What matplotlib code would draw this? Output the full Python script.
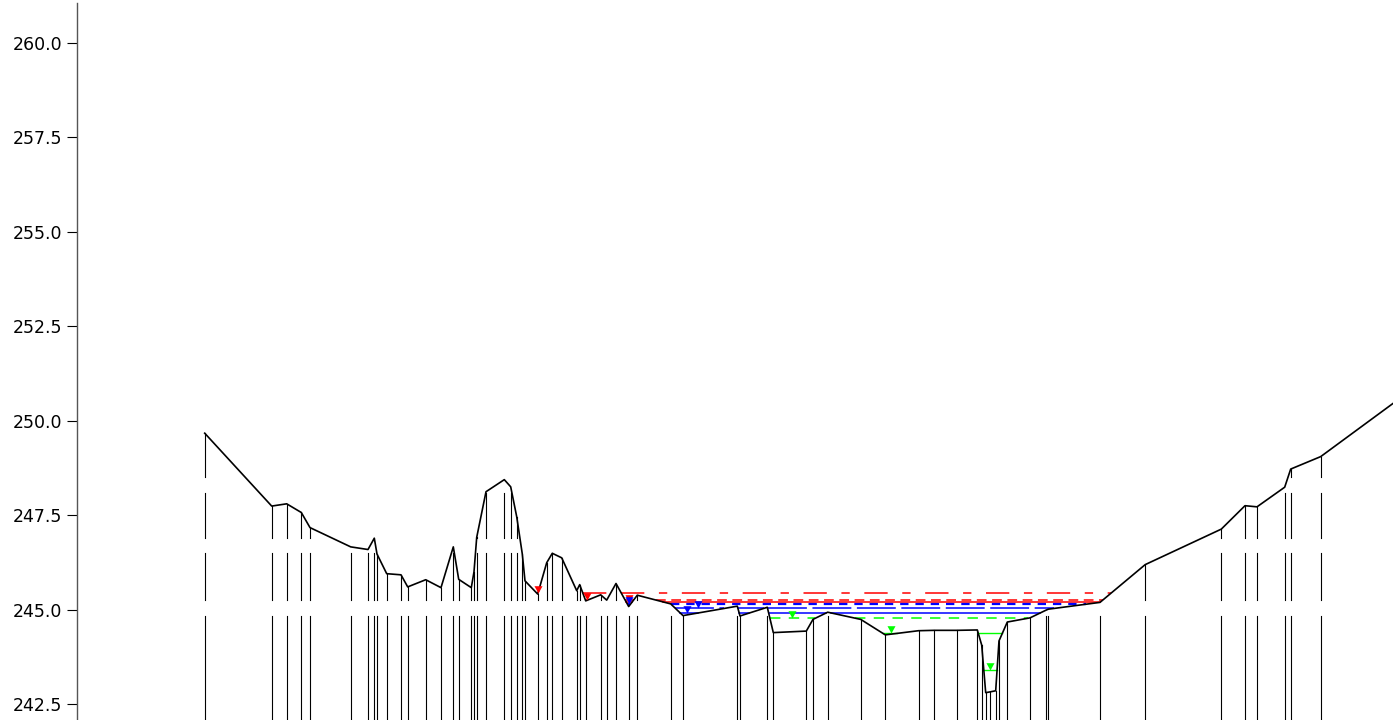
import numpy as np
import matplotlib.pyplot as plt

plt.rcParams['lines.scale_dashes'] = False
plt.rcParams['font.family'] = ['DejaVu Sans']

# ground profile, station vs elevation
station = [127.7, 194.7, 209.7, 224.3, 233.0, 273.7, 291.0, 297.3, 300.0, 309.7,
           324.0, 330.7, 348.7, 364.0, 376.3, 381.7, 394.3, 397.0, 399.7, 409.0,
           427.3, 433.7, 439.7, 445.3, 448.0, 460.7, 469.7, 475.3, 484.7, 499.7,
           502.7, 508.7, 523.7, 529.7, 539.0, 551.7, 560.3, 593.7, 606.0, 660.3,
           663.0, 690.3, 696.3, 729.3, 736.0, 750.7, 783.7, 808.3, 841.5, 857.0,
           879.7, 900.3, 904.7, 908.7, 913.0, 918.7, 922.0, 930.3, 953.0, 968.7,
           971.3, 1023.0, 1068.2, 1144.3, 1168.0, 1180.0, 1207.7, 1213.7, 1243.7, 1330.0]
elevation = [249.67, 247.74, 247.80, 247.57, 247.17, 246.66, 246.59, 246.89, 246.47, 245.95,
             245.92, 245.60, 245.79, 245.58, 246.66, 245.80, 245.58, 246.00, 246.91, 248.12,
             248.44, 248.25, 247.46, 246.47, 245.76, 245.41, 246.24, 246.49, 246.37, 245.50,
             245.66, 245.23, 245.39, 245.25, 245.69, 245.08, 245.38, 245.15, 244.84, 245.09,
             244.83, 245.06, 244.39, 244.43, 244.74, 244.93, 244.74, 244.33, 244.44, 244.45,
             244.45, 244.46, 244.06, 242.80, 242.82, 242.85, 244.17, 244.67, 244.78, 244.98,
             245.01, 245.19, 246.19, 247.13, 247.75, 247.72, 248.24, 248.72, 249.05, 250.73]

# water surface profiles
ws_elev = [245.43, 245.25, 245.20, 245.14, 245.03, 244.91, 244.77, 244.37, 243.40]
ws_marker_sta = [460.7, 509.7, 551.7, 551.7, 620.7, 609.7, 715.3, 814.3, 913.0]

# styles of the profiles
ws_colors = ['#ff0000', '#ff0000', '#ff0000',
             '#0000ff', '#0000ff', '#0000ff',
             '#00ff00', '#00ff00', '#00ff00']
ws_styles = [(0, (16.8, 10.5, 6.0, 10.5)), (0, (7.0, 4.0)), '-',
             (0, (6.0, 5.0)), (0, (28.0, 4.0)), '-',
             (0, (7.5, 6.0)), '-', '-']
ws_widths = [1.1, 1.1, 1.1, 1.6, 1.1, 1.1, 1.1, 1.0, 1.0]

# bands where the station lines are drawn (gaps between them)
bands = [(241.5, 244.84), (245.25, 246.50), (246.90, 248.09), (248.51, 255.0)]


def wet_segments(xs, zs, level):
    segs = []
    cur = None
    for x0, z0, x1, z1 in zip(xs[:-1], zs[:-1], xs[1:], zs[1:]):
        w0, w1 = z0 < level, z1 < level
        if w0 and cur is None:
            cur = x0
        if w0 != w1:
            xc = x0 + (level - z0) / (z1 - z0) * (x1 - x0)
            if w0:
                segs.append((cur, xc))
                cur = None
            else:
                cur = xc
    if cur is not None:
        segs.append((cur, xs[-1]))
    return segs


fig = plt.figure(figsize=(13.93, 7.2), dpi=100)
ax = fig.add_axes([77 / 1393, 0, 1 - 77 / 1393, 1 - 3 / 720])

# station lines
for x, z in zip(station, elevation):
    for lo, hi in bands:
        top = min(hi, z)
        if top > lo:
            ax.plot([x, x], [lo, top], color='black', lw=0.8, zorder=1)

# water surfaces
tri = [(0, 0), (-0.55, 1), (0.55, 1)]
for lev, xm, c, ls, lw in zip(ws_elev, ws_marker_sta, ws_colors, ws_styles, ws_widths):
    for a, b in wet_segments(station, elevation, lev):
        ax.plot([a, b], [lev, lev], color=c, linestyle=ls, lw=lw, zorder=2)
    ax.plot([xm], [lev], marker=tri, markersize=10.5, color=c,
            markeredgewidth=0, linestyle='', zorder=4)

# ground
ax.plot(station, elevation, color='black', lw=1.2, zorder=3)

ax.set_xlim(0, 1316)
ax.set_ylim(242.076, 261.06)
ax.set_yticks(np.arange(242.5, 260.01, 2.5))
ax.set_yticklabels(['%.1f' % v for v in np.arange(242.5, 260.01, 2.5)])
ax.set_xticks([])
ax.tick_params(axis='y', length=7.2, width=0.8, direction='out', labelsize=12.5,
               pad=3.6, colors='black')
for s in ['top', 'right', 'bottom']:
    ax.spines[s].set_visible(False)
ax.spines['left'].set_color('#555555')
ax.spines['left'].set_linewidth(1.0)

fig.savefig('out.png', dpi=100)
